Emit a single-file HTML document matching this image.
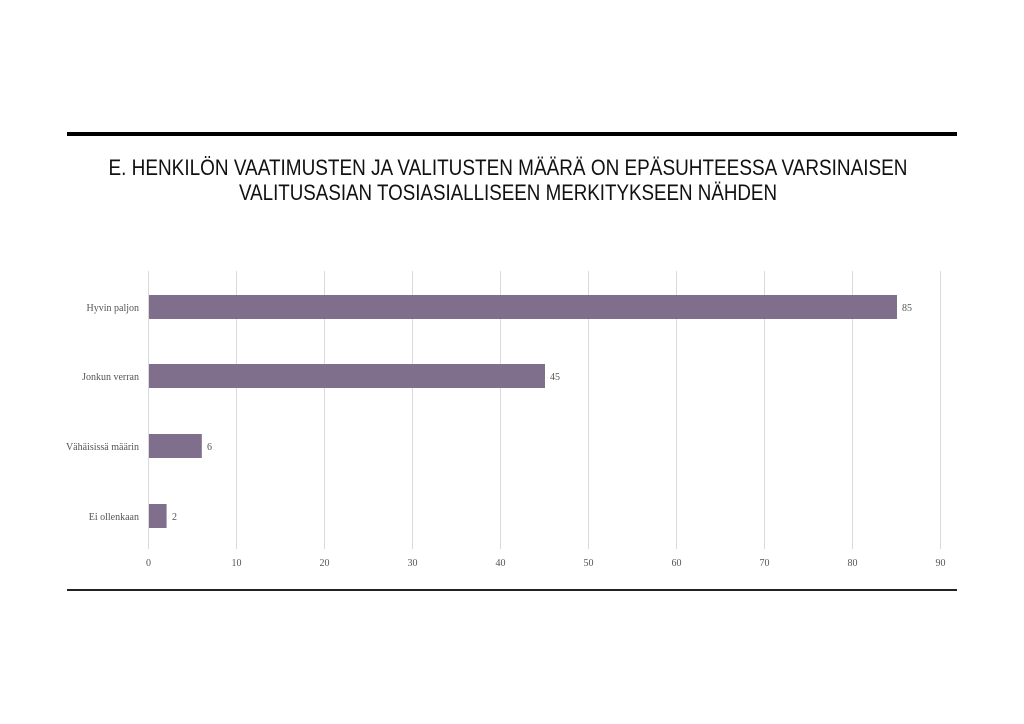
<!DOCTYPE html>
<html><head><meta charset="utf-8"><style>
html,body{margin:0;padding:0;background:#fff;}
svg{display:block;}
</style></head><body>
<svg width="1024" height="724" viewBox="0 0 1024 724" xmlns="http://www.w3.org/2000/svg">
<rect width="1024" height="724" fill="#fff"/>
<rect x="67" y="132" width="890" height="4" fill="#000"/>
<rect x="67" y="589" width="890" height="2" fill="#222"/>
<g font-family="'Liberation Sans Narrow','Liberation Sans',sans-serif" font-size="22" fill="#111" text-anchor="middle">
<text x="508" y="175" textLength="799" lengthAdjust="spacingAndGlyphs">E. HENKILÖN VAATIMUSTEN JA VALITUSTEN MÄÄRÄ ON EPÄSUHTEESSA VARSINAISEN</text>
<text x="508" y="200" textLength="538" lengthAdjust="spacingAndGlyphs">VALITUSASIAN TOSIASIALLISEEN MERKITYKSEEN NÄHDEN</text>
</g>
<g stroke="#d9d9d9" stroke-width="1">
<line x1="148.5" y1="271" x2="148.5" y2="549"/>
<line x1="236.5" y1="271" x2="236.5" y2="549"/>
<line x1="324.5" y1="271" x2="324.5" y2="549"/>
<line x1="412.5" y1="271" x2="412.5" y2="549"/>
<line x1="500.5" y1="271" x2="500.5" y2="549"/>
<line x1="588.5" y1="271" x2="588.5" y2="549"/>
<line x1="676.5" y1="271" x2="676.5" y2="549"/>
<line x1="764.5" y1="271" x2="764.5" y2="549"/>
<line x1="852.5" y1="271" x2="852.5" y2="549"/>
<line x1="940.5" y1="271" x2="940.5" y2="549"/>
</g>
<g fill="#7f6e8c">
<rect x="149" y="295" width="748" height="24"/>
<rect x="149" y="364" width="396" height="24"/>
<rect x="149" y="434" width="52.8" height="24"/>
<rect x="149" y="504" width="17.6" height="24"/>
</g>
<g font-family="'Liberation Serif',serif" font-size="10" fill="#555">
<g text-anchor="end">
<text x="139" y="311">Hyvin paljon</text>
<text x="139" y="380">Jonkun verran</text>
<text x="139" y="450">Vähäisissä määrin</text>
<text x="139" y="520">Ei ollenkaan</text>
</g>
<text x="902" y="311">85</text>
<text x="550" y="380">45</text>
<text x="207" y="450">6</text>
<text x="172" y="520">2</text>
<g text-anchor="middle">
<text x="148.5" y="566">0</text>
<text x="236.5" y="566">10</text>
<text x="324.5" y="566">20</text>
<text x="412.5" y="566">30</text>
<text x="500.5" y="566">40</text>
<text x="588.5" y="566">50</text>
<text x="676.5" y="566">60</text>
<text x="764.5" y="566">70</text>
<text x="852.5" y="566">80</text>
<text x="940.5" y="566">90</text>
</g>
</g>
</svg>
</body></html>
